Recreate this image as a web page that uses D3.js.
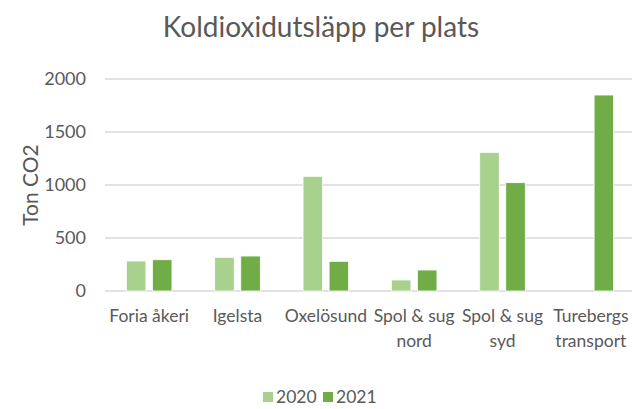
<!DOCTYPE html>
<html>
<head>
<meta charset="utf-8">
<script src="https://cdn.jsdelivr.net/npm/d3@7"></script>
<style>
  body { margin: 0; background: #fff; }
  text { font-family: Lato, "Liberation Sans", sans-serif; fill: #595959; }
</style>
</head>
<body>
<div id="chart"></div>
<script>
// data
var categories = ["Foria åkeri", "Igelsta", "Oxelösund", "Spol & sug nord", "Spol & sug syd", "Turebergs transport"];
var series = ["2020", "2021"];
var values2020 = [283, 318, 1082, 104, 1308, 0];
var values2021 = [295, 330, 280, 198, 1022, 1849];
var yTicks = [0, 500, 1000, 1500, 2000];
var colors = ["#A9D18E", "#70AD47"];

var width = 632, height = 409;
var plotLeft = 105, plotRight = 635, plotTop = 79, plotBottom = 291;

var svg = d3.select("#chart").append("svg")
  .attr("width", width)
  .attr("height", height);

// titel
svg.append("text")
  .attr("x", 321).attr("y", 37)
  .attr("text-anchor", "middle")
  .attr("font-size", "28px")
  .text("Koldioxidutsläpp per plats");

var x = d3.scaleBand().domain(categories).range([plotLeft, plotRight]).paddingInner(0).paddingOuter(0);
var xSub = d3.scaleBand().domain(series).range([0, x.bandwidth()]).paddingInner(0.25).paddingOuter(0.82);
var y = d3.scaleLinear().domain([0, 2000]).range([plotBottom, plotTop]);

// gridlines
svg.append("g").selectAll("line")
  .data(yTicks).enter().append("line")
  .attr("x1", plotLeft).attr("x2", 632)
  .attr("y1", function(d) { return y(d); })
  .attr("y2", function(d) { return y(d); })
  .attr("stroke", "#D9D9D9")
  .attr("stroke-width", 1.5);

// y axis labels
var yAxis = d3.axisLeft(y).tickValues(yTicks).tickSize(0).tickPadding(0).tickFormat(d3.format("d"));
var gy = svg.append("g").attr("transform", "translate(86,0)").call(yAxis);
gy.select(".domain").remove();
gy.selectAll("text").attr("font-size", "18px").attr("fill", "#595959")
  .style("font-family", "Lato, 'Liberation Sans', sans-serif");

svg.append("text")
  .attr("transform", "translate(38," + ((plotTop + plotBottom) / 2) + ") rotate(-90)")
  .attr("text-anchor", "middle")
  .attr("font-size", "21px")
  .text("Ton CO2");

// bars
var rows = categories.map(function(c, i) {
  return { cat: c, vals: [values2020[i], values2021[i]] };
});
var groups = svg.append("g").selectAll("g")
  .data(rows).enter().append("g")
  .attr("transform", function(d) { return "translate(" + x(d.cat) + ",0)"; });
groups.selectAll("rect")
  .data(function(d) { return d.vals.map(function(v, j) { return { s: series[j], v: v, j: j }; }); })
  .enter().append("rect")
  .filter(function(d) { return d.v > 0; })
  .attr("x", function(d) { return xSub(d.s); })
  .attr("y", function(d) { return y(d.v); })
  .attr("width", xSub.bandwidth())
  .attr("height", function(d) { return y(0) - y(d.v); })
  .attr("fill", function(d) { return colors[d.j]; })
  .attr("stroke", "#fff")
  .attr("stroke-width", 0.8);

// category labels, wrapped to band width
var labels = svg.append("g").selectAll("text")
  .data(categories).enter().append("text")
  .attr("x", function(d) { return x(d) + x.bandwidth() / 2; })
  .attr("y", 322)
  .attr("text-anchor", "middle")
  .attr("font-size", "17.5px");
labels.each(function(d) {
  var t = d3.select(this);
  var words = d.split(" ");
  var line = [];
  var tspan = t.append("tspan").attr("x", t.attr("x")).attr("dy", 0);
  words.forEach(function(w) {
    line.push(w);
    tspan.text(line.join(" "));
    if (tspan.node().getComputedTextLength() > x.bandwidth() && line.length > 1) {
      line.pop();
      tspan.text(line.join(" "));
      line = [w];
      tspan = t.append("tspan").attr("x", t.attr("x")).attr("dy", 25).text(w);
    }
  });
});

// legend
var legend = svg.append("g").selectAll("g")
  .data(series).enter().append("g")
  .attr("transform", function(d, i) { return "translate(" + (263 + i * 60) + ",392)"; });
legend.append("rect")
  .attr("width", 10).attr("height", 10)
  .attr("fill", function(d, i) { return colors[i]; });
legend.append("text")
  .attr("x", 13).attr("y", 11)
  .attr("font-size", "17.5px")
  .text(function(d) { return d; });
</script>
</body>
</html>
